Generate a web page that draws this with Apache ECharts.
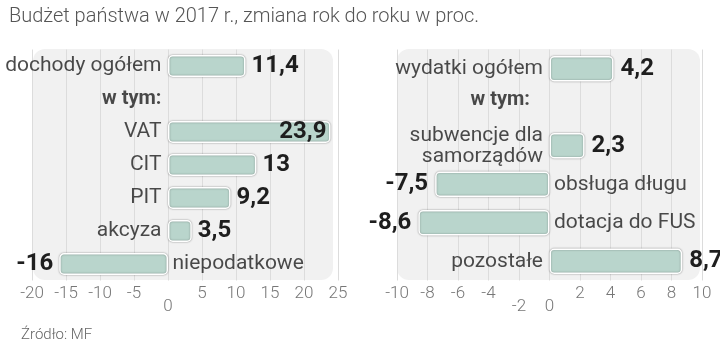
<!DOCTYPE html>
<html>
<head>
<meta charset="utf-8">
<script src="https://cdn.jsdelivr.net/npm/echarts@6/dist/echarts.min.js"></script>
<style>html,body{margin:0;padding:0;background:#fff}#c{width:720px;height:343px}</style>
</head>
<body>
<div id="c"></div>
<script>
// ---- data ----
const titleText = 'Budżet państwa w 2017 r., zmiana rok do roku w proc.';
const sourceText = 'Źródło: MF';
const leftCategories = ['dochody ogółem', 'w tym:', 'VAT', 'CIT', 'PIT', 'akcyza', 'niepodatkowe'];
const leftValues = [11.4, null, 23.9, 13, 9.2, 3.5, -16];
const rightCategories = ['wydatki ogółem', 'w tym:', 'subwencje dla\nsamorządów', 'obsługa długu', 'dotacja do FUS', 'pozostałe'];
const rightValues = [4.2, null, 2.3, -7.5, -8.6, 8.7];
const leftTicks = [-20, -15, -10, -5, 0, 5, 10, 15, 20, 25];
const rightTicks = [-10, -8, -6, -4, -2, 0, 2, 4, 6, 8, 10];
const leftLoweredTicks = [0];
const rightLoweredTicks = [-2, 0];

// ---- styling ----
const barColor = '#b9d5cc';
const textFont = 'Roboto, "Open Sans", sans-serif';
const numFont = 'Roboto, "DejaVu Sans Condensed", sans-serif';
const fmt = v => String(v).replace('.', ',');

function xAxisFor(gridIndex, ticks, lowered) {
  return {
    gridIndex, type: 'value',
    min: ticks[0], max: ticks[ticks.length - 1], interval: ticks[1] - ticks[0],
    axisLine: {show: false}, axisTick: {show: false},
    splitLine: {show: true, lineStyle: {color: '#dcdcdc', width: 1}},
    axisLabel: {
      margin: 5,
      formatter: v => lowered.includes(v) ? '{low|' + v + '}' : '{n|' + v + '}',
      rich: {
        n: {fontSize: 17, fontFamily: textFont, fontWeight: 300, color: '#777'},
        low: {fontSize: 17, fontFamily: textFont, fontWeight: 300, color: '#777', padding: [13, 0, 0, 0]}
      }
    }
  };
}
function yAxisFor(gridIndex, cats) {
  return {gridIndex, type: 'category', data: cats, inverse: true, show: false,
    axisLine: {show: false}, axisTick: {show: false}, splitLine: {show: false}};
}
function barSeries(idx, values, insideIdx, gapOut) {
  return {
    type: 'bar', xAxisIndex: idx, yAxisIndex: idx, barWidth: '66%', z: 3,
    data: values.map((v, i) => ({
      value: v,
      label: {
        show: v !== null,
        position: i === insideIdx ? 'insideRight' : (v < 0 ? 'left' : 'right'),
        distance: i === insideIdx ? 4 : gapOut
      }
    })),
    itemStyle: {color: barColor, borderColor: '#ffffff', borderWidth: 1.5, borderRadius: 4,
      shadowColor: 'rgba(0,0,0,0.35)', shadowBlur: 2},
    label: {formatter: p => fmt(p.value), fontFamily: numFont, fontWeight: 700, fontSize: 24, color: '#1e1e1e'}
  };
}
function nameSeries(idx, cats, values, wtymOffset) {
  return {
    type: 'scatter', xAxisIndex: idx, yAxisIndex: idx, symbolSize: 1, z: 4, silent: true,
    itemStyle: {color: 'transparent'},
    data: cats.map((c, i) => ({
      value: [0, i],
      label: {
        show: true,
        position: values[i] !== null && values[i] < 0 ? 'right' : 'left',
        distance: values[i] !== null && values[i] < 0 ? 4 : 6,
        fontWeight: values[i] === null ? 'bold' : 'normal',
        fontSize: values[i] === null ? 20 : 21,
        offset: values[i] === null ? wtymOffset : [0, 0],
        formatter: c
      }
    })),
    label: {fontFamily: textFont, color: '#1e1e1e', lineHeight: 21}
  };
}

const chart = echarts.init(document.getElementById('c'), null, {renderer: 'canvas'});
chart.setOption({
  backgroundColor: '#fff',
  animation: false,
  title: [
    {text: titleText, left: 4, top: 2, textStyle: {fontFamily: textFont, fontWeight: 300, fontSize: 20, color: '#555'}},
    {text: sourceText, left: 16, top: 323, textStyle: {fontFamily: textFont, fontWeight: 300, fontSize: 15, color: '#666'}}
  ],
  graphic: [
    {type: 'rect', z: -10, shape: {x: 33, y: 49, width: 300, height: 231, r: 12}, style: {fill: '#f1f1f1'}},
    {type: 'rect', z: -10, shape: {x: 397, y: 49, width: 303, height: 231, r: 12}, style: {fill: '#f1f1f1'}}
  ],
  grid: [
    {left: 32, right: 382, top: 49.5, height: 231, containLabel: false},
    {left: 397, right: 18, top: 49.5, height: 231, containLabel: false}
  ],
  xAxis: [xAxisFor(0, leftTicks, leftLoweredTicks), xAxisFor(1, rightTicks, rightLoweredTicks)],
  yAxis: [yAxisFor(0, leftCategories), yAxisFor(1, rightCategories)],
  series: [
    barSeries(0, leftValues, 2, 6),
    nameSeries(0, leftCategories, leftValues, [0, 0]),
    barSeries(1, rightValues, -1, 7),
    nameSeries(1, rightCategories, rightValues, [-13, -7])
  ]
});
</script>
</body>
</html>
